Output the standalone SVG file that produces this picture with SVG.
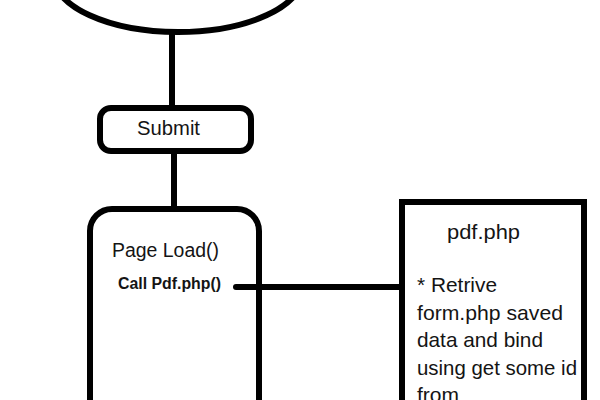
<svg xmlns="http://www.w3.org/2000/svg" width="600" height="400" viewBox="0 0 600 400">
  <style>
    .shape { fill: #ffffff; stroke: #000000; stroke-width: 6; }
    .conn { fill: none; stroke: #000000; stroke-width: 6; stroke-linecap: round; }
    .t { font-family: "Liberation Sans", Arial, sans-serif; fill: #141414; }
    .lbl { font-size: 20px; }
    .body { font-size: 21px; }
    .bold { font-size: 16px; font-weight: bold; }
  </style>
  <rect width="600" height="400" fill="#ffffff"/>
  <g id="connectors">
    <line class="conn" x1="172" y1="32" x2="172" y2="108" stroke-linecap="butt"/>
    <line class="conn" x1="174" y1="151" x2="174" y2="209" stroke-linecap="butt"/>
    <line class="conn" x1="236" y1="287" x2="402" y2="287"/>
  </g>
  <g id="start">
    <ellipse class="shape" cx="178" cy="-25" rx="125" ry="57"/>
  </g>
  <g id="submit">
    <rect class="shape" x="100" y="108" width="151" height="43" rx="11"/>
    <text class="t lbl" x="137" y="135" textLength="63" lengthAdjust="spacingAndGlyphs">Submit</text>
  </g>
  <g id="pageload">
    <rect class="shape" x="90" y="209" width="169" height="260" rx="22" fill="none" style="fill:none"/>
    <text class="t lbl" x="112" y="257" textLength="107" lengthAdjust="spacingAndGlyphs">Page Load()</text>
    <text class="t bold" x="118" y="289" textLength="103" lengthAdjust="spacingAndGlyphs">Call Pdf.php()</text>
  </g>
  <g id="pdfphp">
    <rect class="shape" x="402" y="202" width="182" height="260"/>
    <text class="t body" x="447" y="239" textLength="73" lengthAdjust="spacingAndGlyphs">pdf.php</text>
    <text class="t body" x="417" y="292" textLength="80" lengthAdjust="spacingAndGlyphs">* Retrive</text>
    <text class="t body" x="417" y="320" textLength="146" lengthAdjust="spacingAndGlyphs">form.php saved</text>
    <text class="t body" x="417" y="347" textLength="126" lengthAdjust="spacingAndGlyphs">data and bind</text>
    <text class="t body" x="417" y="375" textLength="160" lengthAdjust="spacingAndGlyphs">using get some id</text>
    <text class="t body" x="417" y="402">from</text>
  </g>
</svg>
